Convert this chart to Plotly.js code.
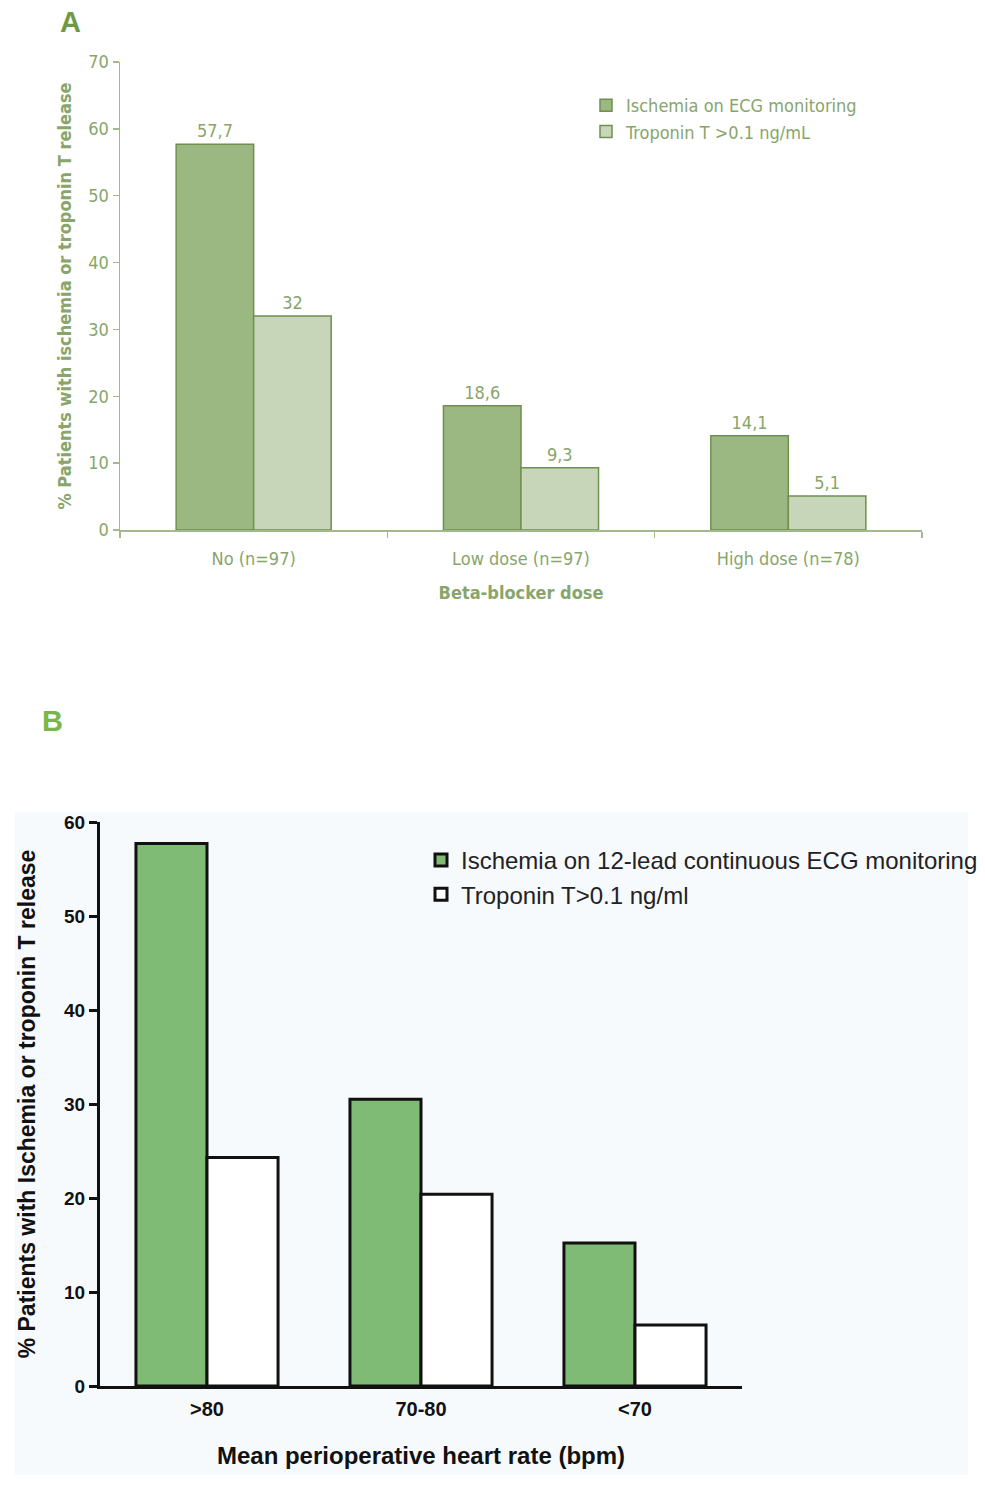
<!DOCTYPE html>
<html>
<head>
<meta charset="utf-8">
<script src="https://cdn.plot.ly/plotly-3.0.1.min.js"></script>
<style>html,body{margin:0;padding:0;background:#fff;}</style>
</head>
<body>
<div id="chart" style="width:985px;height:1499px;"></div>
<script>
// Panel A data
const categoriesA = ['No (n=97)', 'Low dose (n=97)', 'High dose (n=78)'];
const ischemiaA = [57.7, 18.6, 14.1];
const troponinA = [32, 9.3, 5.1];
const seriesNamesA = ['Ischemia on ECG monitoring', 'Troponin T >0.1 ng/mL'];

// Panel B data
const categoriesB = ['>80', '70-80', '<70'];
const tickTextB = ['&gt;80', '70-80', '&lt;70'];
const ischemiaB = [57.7, 30.5, 15.2];
const troponinB = [24.3, 20.4, 6.5];
const seriesNamesB = ['Ischemia on 12-lead continuous ECG monitoring', 'Troponin T>0.1 ng/ml'];

const W = 985, H = 1499;
const px = v => v / W;
const py = v => 1 - v / H;

const fontA = '"Liberation Sans Narrow", "Arial Narrow", "DejaVu Sans Condensed", Arial, sans-serif';
const fontB = 'Arial, "Liberation Sans", Helvetica, sans-serif';
const textGreen = '#88a56b';
const lineGreen = '#a1b98b';

const comma = v => String(v).replace('.', ',');

const wA = 0.29, wB = 0.332;

const traces = [
  {
    type: 'bar', name: seriesNamesA[0], x: categoriesA, y: ischemiaA,
    xaxis: 'x', yaxis: 'y', legend: 'legend', legendgroup: 'a1',
    width: wA, offset: -wA,
    marker: {color: '#9cb882', line: {color: '#6f904f', width: 1.5}},
    text: ischemiaA.map(comma), textposition: 'outside', cliponaxis: false,
    textfont: {family: fontA, size: 18, color: textGreen}
  },
  {
    type: 'bar', name: seriesNamesA[1], x: categoriesA, y: troponinA,
    xaxis: 'x', yaxis: 'y', legend: 'legend', legendgroup: 'a2',
    width: wA, offset: 0,
    marker: {color: '#c7d6b8', line: {color: '#6f904f', width: 1.5}},
    text: troponinA.map(comma), textposition: 'outside', cliponaxis: false,
    textfont: {family: fontA, size: 18, color: textGreen}
  },
  {
    type: 'bar', name: seriesNamesB[0], x: categoriesB, y: ischemiaB,
    xaxis: 'x2', yaxis: 'y2', legend: 'legend2', legendgroup: 'b1',
    width: wB, offset: -wB,
    marker: {color: '#80bb76', line: {color: '#111111', width: 3}},
    cliponaxis: false
  },
  {
    type: 'bar', name: seriesNamesB[1], x: categoriesB, y: troponinB,
    xaxis: 'x2', yaxis: 'y2', legend: 'legend2', legendgroup: 'b2',
    width: wB, offset: 0,
    marker: {color: '#ffffff', line: {color: '#111111', width: 3}},
    cliponaxis: false
  }
];

const layout = {
  width: W, height: H,
  margin: {l: 0, r: 0, t: 0, b: 0},
  paper_bgcolor: '#ffffff',
  plot_bgcolor: 'rgba(0,0,0,0)',
  barmode: 'overlay',
  showlegend: true,
  xaxis: {
    domain: [px(120), px(922)], anchor: 'y',
    type: 'category', categoryarray: categoriesA, range: [-0.5, 2.5],
    showline: true, linecolor: lineGreen, linewidth: 1.5,
    ticks: 'outside', tickson: 'boundaries', ticklen: 6, tickcolor: lineGreen, tickwidth: 1.5,
    ticklabelstandoff: 12,
    showgrid: false, zeroline: false, fixedrange: true,
    tickfont: {family: fontA, size: 18, color: textGreen},
    title: {text: '<b>Beta-blocker dose</b>', font: {family: fontA, size: 18, color: textGreen}, standoff: 18}
  },
  yaxis: {
    domain: [py(530), py(62)], anchor: 'x',
    range: [0, 70], dtick: 10, tick0: 0,
    showline: true, linecolor: lineGreen, linewidth: 1.5,
    ticks: 'outside', ticklen: 6, tickcolor: lineGreen, tickwidth: 1.5,
    showgrid: false, zeroline: false, fixedrange: true,
    tickfont: {family: fontA, size: 18, color: textGreen},
    title: {text: '<b>% Patients with ischemia or troponin T release</b>', font: {family: fontA, size: 18, color: textGreen}, standoff: 12}
  },
  xaxis2: {
    domain: [px(100), px(742)], anchor: 'y2',
    type: 'category', categoryarray: categoriesB, range: [-0.5, 2.5],
    tickvals: categoriesB, ticktext: tickTextB,
    showline: true, linecolor: '#111111', linewidth: 3,
    ticks: '', showgrid: false, zeroline: false, fixedrange: true,
    ticklabelstandoff: 3,
    tickfont: {family: fontB, size: 20, color: '#111111', weight: 'bold'},
    title: {text: '<b>Mean perioperative heart rate (bpm)</b>', font: {family: fontB, size: 24, color: '#111111'}, standoff: 29}
  },
  yaxis2: {
    domain: [py(1386), py(822)], anchor: 'x2',
    range: [0, 60], dtick: 10, tick0: 0,
    showline: true, linecolor: '#111111', linewidth: 3,
    ticks: 'outside', ticklen: 8, tickcolor: '#111111', tickwidth: 3,
    showgrid: false, zeroline: false, fixedrange: true,
    tickfont: {family: fontB, size: 19, color: '#111111', weight: 'bold'},
    title: {text: '<b>% Patients with Ischemia or troponin T release</b>', font: {family: fontB, size: 23, color: '#111111'}, standoff: 23}
  },
  legend: {
    x: px(586), y: py(87), xanchor: 'left', yanchor: 'top',
    bgcolor: 'rgba(0,0,0,0)', borderwidth: 0, tracegroupgap: 12,
    font: {family: fontA, size: 18, color: textGreen},
    traceorder: 'normal'
  },
  legend2: {
    x: px(421), y: py(838), xanchor: 'left', yanchor: 'top',
    bgcolor: 'rgba(0,0,0,0)', borderwidth: 0, tracegroupgap: 25,
    font: {family: fontB, size: 24, color: '#222222'},
    traceorder: 'normal'
  },
  shapes: [
    {type: 'rect', xref: 'paper', yref: 'paper', x0: px(15), x1: px(968), y0: py(1475), y1: py(812),
     fillcolor: '#f7fafd', line: {width: 0}, layer: 'below'}
  ],
  annotations: [
    {text: '<b>A</b>', xref: 'paper', yref: 'paper', x: px(70), y: py(22), xanchor: 'center', yanchor: 'middle',
     showarrow: false, font: {family: fontB, size: 29, color: '#6e9a45'}},
    {text: '<b>B</b>', xref: 'paper', yref: 'paper', x: px(52), y: py(721), xanchor: 'center', yanchor: 'middle',
     showarrow: false, font: {family: fontB, size: 29, color: '#7ab648'}}
  ]
};

Plotly.newPlot('chart', traces, layout, {displayModeBar: false, staticPlot: true});
</script>
</body>
</html>
